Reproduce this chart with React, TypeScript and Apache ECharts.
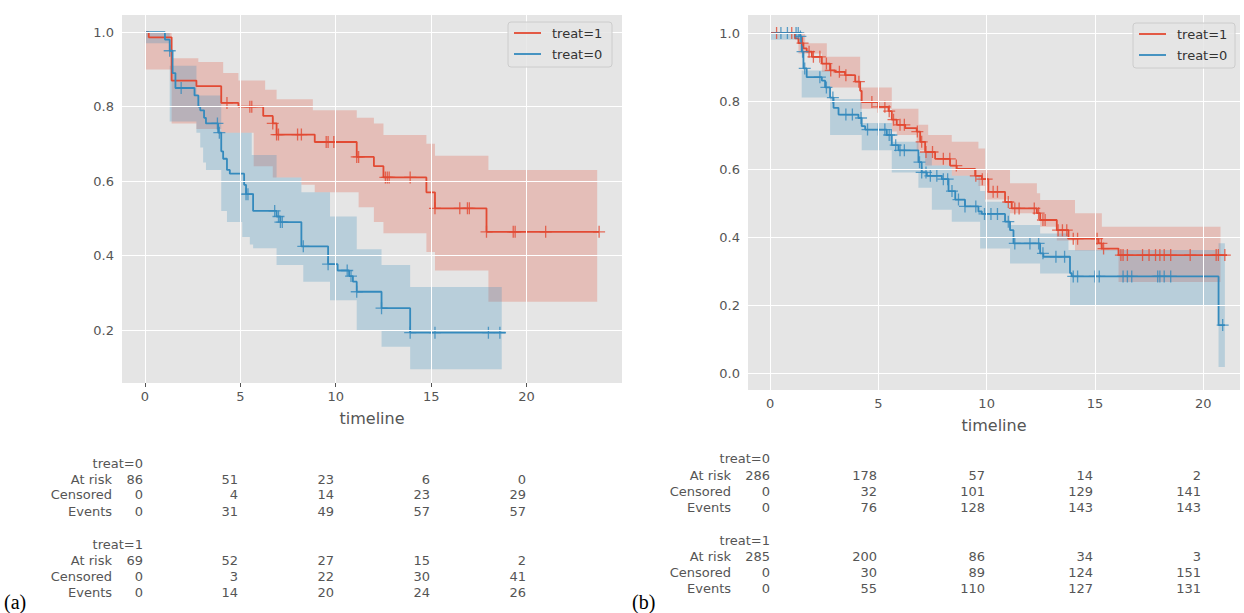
import React from 'react';
import * as echarts from 'echarts';

// ---- panel (a) ----
// step curves: times has one more entry than values (last = end of curve)
const aT1 = [0, 0.2, 1.4, 2.7, 4.0, 4.9, 6.2, 6.7, 6.9, 8.9, 11.1, 12.0, 12.5, 14.75, 15.2, 17.9, 23.8];
const aS1 = [1.0, 0.986, 0.87, 0.855, 0.81, 0.8, 0.775, 0.755, 0.725, 0.705, 0.665, 0.64, 0.61, 0.57, 0.527, 0.464];
const aHiT1 = [0, 1.4, 2.8, 4.1, 4.9, 6.3, 6.9, 8.8, 11.1, 12.0, 12.5, 14.75, 15.2, 18.0, 23.7];
const aHi1 = [1.0, 0.93, 0.92, 0.89, 0.87, 0.845, 0.82, 0.79, 0.77, 0.755, 0.724, 0.7, 0.668, 0.63];
const aLoT1 = [0, 1.4, 2.7, 4.0, 5.7, 6.7, 8.2, 8.9, 11.2, 12.0, 12.5, 14.75, 15.2, 18.0, 23.7];
const aLo1 = [0.9, 0.755, 0.74, 0.73, 0.64, 0.61, 0.59, 0.57, 0.53, 0.49, 0.46, 0.41, 0.36, 0.276];
const aCens1 = [4.3, 5.5, 5.6, 6.7, 6.9, 7.0, 8.0, 8.2, 9.5, 9.6, 9.9, 11.1, 11.2, 12.6, 12.7, 12.8, 13.9, 15.2, 16.5, 16.9, 17.0, 17.9, 19.3, 19.4, 21.0, 23.8];

const aT0 = [0, 1.05, 1.3, 1.45, 1.6, 2.6, 2.8, 2.9, 3.1, 3.2, 3.84, 4.0, 4.1, 4.3, 4.45, 5.2, 5.3, 5.67, 6.9, 7.1, 8.2, 9.6, 10.1, 10.7, 10.9, 11.1, 12.4, 13.9, 18.9];
const aS0 = [1, 0.98, 0.95, 0.89, 0.85, 0.83, 0.8, 0.79, 0.77, 0.755, 0.73, 0.68, 0.66, 0.63, 0.62, 0.59, 0.565, 0.52, 0.505, 0.49, 0.425, 0.377, 0.36, 0.345, 0.33, 0.303, 0.259, 0.193];
const aHiT0 = [0, 1.3, 2.7, 4.0, 5.6, 6.9, 8.2, 9.7, 11.1, 12.4, 13.9, 18.7];
const aHi0 = [1, 0.91, 0.83, 0.73, 0.67, 0.61, 0.57, 0.505, 0.417, 0.375, 0.316];
const aLoT0 = [0, 1.3, 2.7, 2.9, 3.05, 3.2, 4.0, 4.3, 5.1, 5.5, 5.67, 6.9, 8.3, 9.7, 11.1, 12.4, 13.9, 18.7];
const aLo0 = [0.97, 0.76, 0.73, 0.69, 0.65, 0.63, 0.52, 0.49, 0.45, 0.43, 0.42, 0.375, 0.33, 0.28, 0.2, 0.155, 0.095];
const aCens0 = [1.3, 1.9, 3.8, 3.9, 5.3, 5.4, 6.8, 7.0, 7.1, 7.2, 8.3, 9.6, 10.6, 10.8, 11.1, 12.4, 13.9, 15.2, 18.0, 18.6];

// ---- panel (b) ----
const bT1 = [0, 1.15, 1.31, 1.54, 1.69, 1.93, 2.39, 2.77, 3.0, 3.46, 3.93, 4.16, 4.23, 5.0, 5.47, 5.62, 5.85, 6.24, 6.77, 6.93, 7.16, 7.62, 8.31, 8.62, 9.47, 9.78, 10.08, 10.85, 11.16, 12.32, 12.47, 13.24, 13.78, 15.17, 15.32, 16.09, 21.1];
const bS1 = [1, 0.984, 0.97, 0.955, 0.945, 0.93, 0.91, 0.89, 0.886, 0.876, 0.857, 0.83, 0.797, 0.783, 0.77, 0.745, 0.73, 0.72, 0.71, 0.68, 0.65, 0.63, 0.61, 0.6, 0.58, 0.57, 0.533, 0.503, 0.484, 0.47, 0.45, 0.42, 0.395, 0.381, 0.366, 0.347];
const bHiT1 = [0, 1.62, 2.62, 4.16, 5.62, 6.85, 7.3, 8.39, 9.62, 9.93, 11.08, 12.32, 12.47, 14.08, 15.32, 20.8];
const bHi1 = [1, 0.97, 0.93, 0.84, 0.777, 0.73, 0.7, 0.68, 0.66, 0.6, 0.558, 0.529, 0.509, 0.47, 0.43];
const bLoT1 = [0, 1.31, 2.39, 2.77, 4.16, 5.62, 5.85, 6.77, 7.16, 8.39, 9.62, 9.93, 11.08, 12.47, 13.24, 14.08, 16.09, 20.8];
const bLo1 = [1, 0.94, 0.886, 0.84, 0.777, 0.71, 0.7, 0.655, 0.61, 0.58, 0.55, 0.51, 0.47, 0.43, 0.39, 0.36, 0.268];
const bCens1 = [0.3, 1.0, 1.5, 1.8, 2.0, 2.3, 2.6, 2.8, 3.2, 3.5, 4.1, 4.7, 5.0, 5.3, 5.5, 5.7, 6.0, 6.2, 6.8, 7.0, 7.2, 7.5, 8.0, 8.3, 8.6, 9.5, 9.8, 10.0, 10.3, 10.5, 11.0, 11.3, 11.5, 12.2, 12.4, 12.6, 12.7, 13.3, 13.5, 13.7, 14.0, 14.2, 15.1, 15.3, 15.4, 16.2, 16.3, 16.5, 17.2, 17.5, 17.8, 18.0, 18.2, 18.5, 19.4, 20.6, 20.7, 21.0];

const bT0 = [0, 1.39, 1.46, 1.54, 1.69, 2.39, 2.54, 2.77, 2.93, 3.16, 4.08, 4.23, 4.39, 5.39, 5.62, 5.93, 6.85, 7.0, 7.24, 7.93, 8.24, 8.55, 9.0, 9.62, 9.78, 10.85, 11.08, 11.24, 12.47, 12.62, 13.85, 13.93, 20.71, 21.0];
const bS0 = [1, 0.99, 0.945, 0.896, 0.87, 0.86, 0.84, 0.81, 0.78, 0.76, 0.75, 0.726, 0.716, 0.7, 0.67, 0.655, 0.62, 0.59, 0.58, 0.57, 0.535, 0.51, 0.49, 0.475, 0.468, 0.445, 0.42, 0.381, 0.352, 0.342, 0.294, 0.284, 0.141];
const bHiT0 = [0, 1.46, 2.77, 4.23, 5.62, 6.85, 7.47, 8.39, 9.7, 9.93, 11.08, 12.47, 13.78, 20.71, 21.0];
const bHi0 = [1, 0.89, 0.806, 0.735, 0.68, 0.65, 0.61, 0.58, 0.535, 0.504, 0.435, 0.41, 0.362, 0.382];
const bLoT0 = [0, 1.46, 2.77, 4.23, 5.62, 6.85, 7.47, 8.39, 9.7, 11.08, 12.47, 13.85, 20.71, 21.0];
const bLo0 = [0.98, 0.81, 0.7, 0.655, 0.59, 0.545, 0.48, 0.445, 0.366, 0.322, 0.293, 0.2, 0.018];
const bCens0 = [0.5, 0.8, 1.2, 1.3, 1.4, 1.5, 1.6, 2.3, 2.6, 2.9, 3.5, 3.8, 4.2, 4.5, 5.0, 5.3, 5.5, 5.6, 5.8, 6.0, 6.2, 6.9, 7.0, 7.2, 7.4, 7.7, 8.0, 8.2, 8.4, 8.7, 9.0, 9.5, 9.9, 10.2, 10.5, 11.0, 11.3, 12.0, 12.4, 12.6, 13.2, 13.6, 14.0, 14.2, 15.0, 15.2, 16.3, 16.5, 16.7, 17.9, 18.0, 18.2, 18.5, 20.9];

// ---- tick labels and at-risk tables ----
const xTicks = [0, 5, 10, 15, 20];
const aYTicks = [0.2, 0.4, 0.6, 0.8, 1.0];
const bYTicks = [0, 0.2, 0.4, 0.6, 0.8, 1.0];
const rowLabels = ['At risk', 'Censored', 'Events'];
const aTab0 = [[86, 51, 23, 6, 0], [0, 4, 14, 23, 29], [0, 31, 49, 57, 57]];
const aTab1 = [[69, 52, 27, 15, 2], [0, 3, 22, 30, 41], [0, 14, 20, 24, 26]];
const bTab0 = [[286, 178, 57, 14, 2], [0, 32, 101, 129, 141], [0, 76, 128, 143, 143]];
const bTab1 = [[285, 200, 86, 34, 3], [0, 30, 89, 124, 151], [0, 55, 110, 127, 131]];

const RED = '#E24A33';
const BLUE = '#348ABD';
const FONT = 'DejaVu Sans';

const stepData = (t: number[], s: number[]) => {
  const d = s.map((v, i) => [t[i], v]);
  d.push([t[t.length - 1], s[s.length - 1]]);
  return d;
};
const survAt = (t: number[], s: number[], x: number) => {
  let v = s[0];
  for (let i = 0; i < s.length; i++) if (t[i] <= x) v = s[i];
  return v;
};

const bandSeries = (idx: number, hiT: number[], hi: number[], loT: number[], lo: number[], fill: string) => ({
  type: 'custom',
  xAxisIndex: idx,
  yAxisIndex: idx,
  data: [[0, 0]],
  z: 1,
  silent: true,
  renderItem: (_p: any, api: any) => {
    const pts: number[][] = [];
    for (let i = 0; i < hi.length; i++) {
      pts.push(api.coord([hiT[i], hi[i]]), api.coord([hiT[i + 1], hi[i]]));
    }
    for (let i = lo.length - 1; i >= 0; i--) {
      pts.push(api.coord([loT[i + 1], lo[i]]), api.coord([loT[i], lo[i]]));
    }
    return { type: 'polygon', shape: { points: pts }, style: { fill } };
  },
});

const lineSeries = (idx: number, t: number[], s: number[], color: string) => ({
  type: 'line',
  xAxisIndex: idx,
  yAxisIndex: idx,
  step: 'end',
  showSymbol: false,
  z: 3,
  data: stepData(t, s),
  lineStyle: { color, width: 1.8 },
});

const censSeries = (idx: number, c: number[], t: number[], s: number[], color: string) => ({
  type: 'scatter',
  xAxisIndex: idx,
  yAxisIndex: idx,
  symbol: 'path://M0,-1V1M-1,0H1',
  symbolSize: 12,
  z: 4,
  data: c.map((x) => [x, survAt(t, s, x)]),
  itemStyle: { color: 'none', borderColor: color, borderWidth: 1.3 },
});

const gridSeries = (idx: number, yt: number[]) => ({
  type: 'line',
  xAxisIndex: idx,
  yAxisIndex: idx,
  data: [],
  z: 0,
  markLine: {
    silent: true,
    symbol: 'none',
    label: { show: false },
    lineStyle: { color: '#ffffff', width: 1, type: 'solid' },
    data: [...xTicks.map((x) => ({ xAxis: x })), ...yt.map((y) => ({ yAxis: y }))],
  },
});

const axisText = { color: '#555', fontFamily: FONT, fontSize: 13 };

const makeAxes = (idx: number, xMin: number, xMax: number, yMin: number, yMax: number, yt: number[]) => ({
  x: {
    type: 'value', gridIndex: idx, min: xMin, max: xMax,
    name: 'timeline', nameLocation: 'middle', nameGap: 27,
    nameTextStyle: { color: '#555', fontFamily: FONT, fontSize: 16 },
    axisLine: { show: false },
    splitLine: { show: false },
    axisTick: { show: true, customValues: xTicks, length: 4, lineStyle: { color: '#555' } },
    axisLabel: { ...axisText, customValues: xTicks, margin: 7 },
  },
  y: {
    type: 'value', gridIndex: idx, min: yMin, max: yMax,
    axisLine: { show: false },
    splitLine: { show: false },
    axisTick: { show: true, customValues: yt, length: 4, lineStyle: { color: '#555' } },
    axisLabel: { ...axisText, customValues: yt, margin: 8, formatter: (v: number) => v.toFixed(1) },
  },
});

const tableTexts = (labelX: number, colX: number[], rows: number[], title: string, tab: number[][]) => {
  const out: any[] = [];
  const st = { fill: '#555', font: `13px "${FONT}"`, textAlign: 'right', textVerticalAlign: 'middle' };
  out.push({ type: 'text', x: colX[0], y: rows[0], style: { ...st, text: title } });
  rowLabels.forEach((lab, r) => {
    out.push({ type: 'text', x: labelX, y: rows[r + 1], style: { ...st, text: lab } });
    tab[r].forEach((v, c) => out.push({ type: 'text', x: colX[c], y: rows[r + 1], style: { ...st, text: String(v) } }));
  });
  return out;
};

const legend = (x: number, y: number, w: number) => {
  const st = { fill: '#333', font: `13px "${FONT}"`, textVerticalAlign: 'middle' };
  return [
    { type: 'rect', shape: { x, y, width: w, height: 45, r: 3 }, style: { fill: 'rgba(229,229,229,0.85)', stroke: '#cccccc', lineWidth: 1 }, z: 10 },
    { type: 'line', shape: { x1: x + 6, y1: y + 11, x2: x + 33, y2: y + 11 }, style: { stroke: RED, lineWidth: 1.8 }, z: 11 },
    { type: 'line', shape: { x1: x + 6, y1: y + 32, x2: x + 33, y2: y + 32 }, style: { stroke: BLUE, lineWidth: 1.8 }, z: 11 },
    { type: 'text', x: x + 44, y: y + 11, style: { ...st, text: 'treat=1' }, z: 11 },
    { type: 'text', x: x + 44, y: y + 32, style: { ...st, text: 'treat=0' }, z: 11 },
  ];
};

const App: React.FC = () => {
  const ref = React.useRef<HTMLDivElement>(null);

  React.useEffect(() => {
    document.body.style.margin = '0';
    if (!ref.current) return;
    const chart = echarts.init(ref.current, undefined, { renderer: 'svg' });
    const A = makeAxes(0, -1.2, 25.0, 0.058, 1.046, aYTicks);
    const B = makeAxes(1, -1.02, 21.7, -0.05, 1.053, bYTicks);
    const aCols = [143, 238, 334, 430, 526];
    const bCols = [770, 877, 985, 1093, 1201];
    chart.setOption({
      animation: false,
      grid: [
        { left: 122, top: 15, width: 500, height: 368, show: true, backgroundColor: '#e5e5e5', borderWidth: 0 },
        { left: 748, top: 15, width: 492, height: 375, show: true, backgroundColor: '#e5e5e5', borderWidth: 0 },
      ],
      xAxis: [A.x, B.x],
      yAxis: [A.y, B.y],
      series: [
        gridSeries(0, aYTicks),
        gridSeries(1, bYTicks),
        bandSeries(0, aHiT1, aHi1, aLoT1, aLo1, 'rgba(226,74,51,0.25)'),
        bandSeries(0, aHiT0, aHi0, aLoT0, aLo0, 'rgba(52,138,189,0.25)'),
        bandSeries(1, bHiT1, bHi1, bLoT1, bLo1, 'rgba(226,74,51,0.25)'),
        bandSeries(1, bHiT0, bHi0, bLoT0, bLo0, 'rgba(52,138,189,0.25)'),
        lineSeries(0, aT1, aS1, RED),
        lineSeries(0, aT0, aS0, BLUE),
        lineSeries(1, bT1, bS1, RED),
        lineSeries(1, bT0, bS0, BLUE),
        censSeries(0, aCens1, aT1, aS1, RED),
        censSeries(0, aCens0, aT0, aS0, BLUE),
        censSeries(1, bCens1, bT1, bS1, RED),
        censSeries(1, bCens0, bT0, bS0, BLUE),
      ],
      graphic: [
        ...legend(508, 22, 104),
        ...legend(1133, 23, 102),
        ...tableTexts(112, aCols, [463, 479, 494, 511], 'treat=0', aTab0),
        ...tableTexts(112, aCols, [544, 560, 576, 592], 'treat=1', aTab1),
        ...tableTexts(731, bCols, [458, 475, 491, 507], 'treat=0', bTab0),
        ...tableTexts(731, bCols, [540, 556, 572, 588], 'treat=1', bTab1),
        { type: 'text', x: 4, y: 602, style: { text: '(a)', fill: '#000', font: '20px "Liberation Serif"', textVerticalAlign: 'middle' } },
        { type: 'text', x: 632, y: 602, style: { text: '(b)', fill: '#000', font: '20px "Liberation Serif"', textVerticalAlign: 'middle' } },
      ],
    });
    return () => chart.dispose();
  }, []);

  return <div ref={ref} style={{ width: 1244, height: 613 }} />;
};

export default App;
